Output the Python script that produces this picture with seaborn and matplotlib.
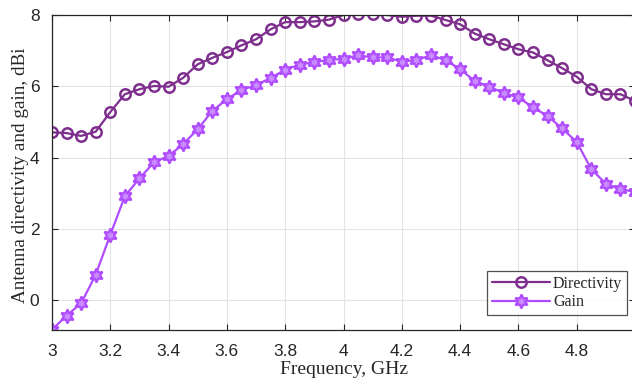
import numpy as np
import pandas as pd
import seaborn as sns
import matplotlib.pyplot as plt

# Frequency sweep, GHz
freq = [3.00, 3.05, 3.10, 3.15, 3.20, 3.25, 3.30, 3.35, 3.40, 3.45,
        3.50, 3.55, 3.60, 3.65, 3.70, 3.75, 3.80, 3.85, 3.90, 3.95,
        4.00, 4.05, 4.10, 4.15, 4.20, 4.25, 4.30, 4.35, 4.40, 4.45,
        4.50, 4.55, 4.60, 4.65, 4.70, 4.75, 4.80, 4.85, 4.90, 4.95, 5.00]

# Directivity, dBi
directivity = [4.71, 4.69, 4.61, 4.73, 5.28, 5.78, 5.92, 6.01, 5.99, 6.24,
               6.62, 6.80, 6.96, 7.15, 7.32, 7.60, 7.80, 7.80, 7.82, 7.87,
               8.00, 8.02, 8.02, 8.00, 7.95, 7.98, 7.98, 7.86, 7.74, 7.48,
               7.32, 7.18, 7.04, 6.95, 6.73, 6.51, 6.27, 5.92, 5.78, 5.78, 5.59]

# Gain, dBi
gain = [-0.82, -0.43, -0.08, 0.72, 1.84, 2.92, 3.42, 3.87, 4.05, 4.38,
        4.80, 5.31, 5.64, 5.90, 6.04, 6.23, 6.47, 6.61, 6.68, 6.74,
        6.77, 6.87, 6.81, 6.81, 6.69, 6.74, 6.87, 6.74, 6.48, 6.15,
        5.99, 5.81, 5.69, 5.41, 5.17, 4.82, 4.44, 3.68, 3.27, 3.12, 3.04]

xticks = [3, 3.2, 3.4, 3.6, 3.8, 4, 4.2, 4.4, 4.6, 4.8]
xticklabels = ['3', '3.2', '3.4', '3.6', '3.8', '4', '4.2', '4.4', '4.6', '4.8']
yticks = [0, 2, 4, 6, 8]

dir_color = '#7E2F8E'
gain_color = '#B04CFF'

sns.set_style('white')
plt.rcParams['font.family'] = ['Liberation Sans', 'DejaVu Sans']

df = pd.DataFrame({'freq': freq, 'Directivity': directivity, 'Gain': gain})

fig = plt.figure(figsize=(6.32, 3.82), dpi=100)
ax = fig.add_axes([52 / 632, 52 / 382, 583 / 632, 315 / 382])

sns.lineplot(data=df, x='freq', y='Directivity', ax=ax, color=dir_color,
             linewidth=1.6, marker='o', markersize=7.5, markerfacecolor='none',
             markeredgecolor=dir_color, markeredgewidth=1.8, label='Directivity')
sns.lineplot(data=df, x='freq', y='Gain', ax=ax, color=gain_color,
             linewidth=1.6, marker=(6, 1, 0), markersize=10, markerfacecolor='#C98BFF',
             markeredgecolor=gain_color, markeredgewidth=1.6, label='Gain')

ax.set_xlim(3, 5)
ax.set_ylim(-0.83, 8)
ax.set_xticks(xticks)
ax.set_xticklabels(xticklabels)
ax.set_yticks(yticks)
ax.tick_params(direction='in', length=4, width=0.8, labelsize=12.5,
               colors='#262626', top=True, right=True, bottom=True, left=True)
ax.tick_params(axis='x', pad=10)
ax.tick_params(axis='y', pad=9)
ax.grid(True, color='#e3e3e3', linewidth=0.8)
for s in ax.spines.values():
    s.set_color('#262626')
    s.set_linewidth(0.9)

ax.set_xlabel('Frequency, GHz', family=['Liberation Serif'], fontsize=14,
              color='#262626')
ax.set_ylabel('Antenna directivity and gain, dBi', family=['Liberation Serif'],
              fontsize=13.8, color='#262626')
ax.xaxis.set_label_coords(0.5, -(361 - 330) / 315)
ax.yaxis.set_label_coords(-(52 - 29) / 583, 0.49)

leg = ax.legend(loc='lower right', bbox_to_anchor=((627 - 52) / 583, 15 / 315),
                borderaxespad=0, fancybox=False, frameon=True, handlelength=3.6,
                handletextpad=0.2, borderpad=0.3, labelspacing=0.15,
                prop={'family': 'Liberation Serif', 'size': 11.5})
leg.get_frame().set_edgecolor('#262626')
leg.get_frame().set_linewidth(0.9)

fig.savefig('out.png', dpi=100)
